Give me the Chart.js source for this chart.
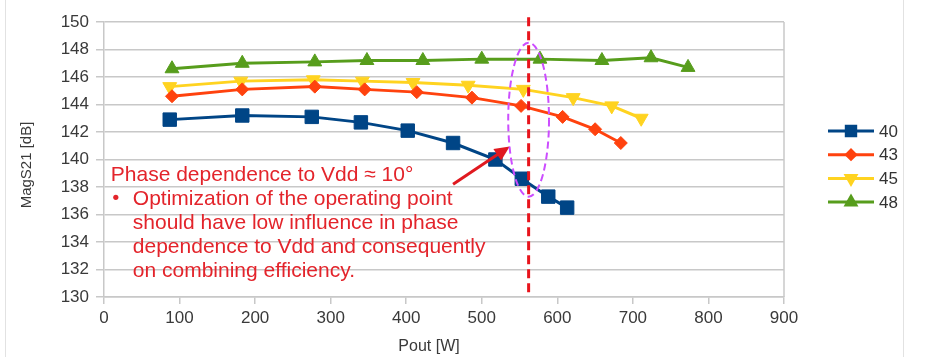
<!DOCTYPE html>
<html>
<head>
<meta charset="utf-8">
<script src="https://cdn.jsdelivr.net/npm/chart.js@4/dist/chart.umd.min.js"></script>
<style>
  html, body { margin: 0; padding: 0; background: #fff; }
  canvas { display: block; }
</style>
</head>
<body>
<canvas id="chart" width="938" height="357" style="width:938px;height:357px"></canvas>
<script>
// series labels (Vdd)
const seriesNames = ['40', '43', '45', '48'];

// Pout [W] / MagS21 [dB]
const pout40 = [87, 183, 275, 340, 402, 462, 518, 553, 588, 613];
const mag40  = [142.9, 143.2, 143.1, 142.7, 142.1, 141.2, 140.0, 138.6, 137.3, 136.5];

const pout43 = [90, 183, 279, 345, 414, 487, 552, 607, 650, 684];
const mag43  = [144.6, 145.1, 145.3, 145.1, 144.9, 144.5, 143.9, 143.1, 142.2, 141.2];

const pout45 = [87, 181, 277, 342, 409, 482, 555, 621, 672, 711];
const mag45  = [145.3, 145.7, 145.8, 145.7, 145.6, 145.4, 145.1, 144.5, 143.9, 143.0];

const pout48 = [90, 183, 279, 348, 422, 500, 577, 659, 724, 773];
const mag48  = [146.6, 147.0, 147.1, 147.2, 147.2, 147.3, 147.3, 147.2, 147.4, 146.7];

const xTitle = 'Pout [W]';
const yTitle = 'MagS21 [dB]';

// annotation
const noteLines = [
  'Phase dependence to Vdd \u2248 10\u00b0',
  'Optimization of the operating point',
  'should have low influence in phase',
  'dependence to Vdd and consequently',
  'on combining efficiency.'
];
const markerPout = 562;

const colors = ['#004586', '#ff420e', '#ffd320', '#579d1c'];
const styles = ['rect', 'rectRot', 'triangle', 'triangle'];
const rotations = [0, 0, 180, 0];
const radii = [9.5, 6.5, 8, 8];

function pts(xs, ys) {
  return xs.map((x, i) => ({ x: x, y: ys[i] }));
}

const allData = [pts(pout40, mag40), pts(pout43, mag43), pts(pout45, mag45), pts(pout48, mag48)];

const datasets = allData.map((d, i) => ({
  label: seriesNames[i],
  data: d,
  showLine: true,
  borderColor: colors[i],
  backgroundColor: colors[i],
  borderWidth: 3,
  pointStyle: styles[i],
  rotation: rotations[i],
  pointRadius: radii[i],
  pointBorderWidth: 1,
  tension: 0
}));

const FONT = '"Liberation Sans", Arial, sans-serif';

// frame, plot border, axis titles, annotation, legend
const extras = {
  id: 'extras',
  beforeDatasetsDraw(chart) {
    const { ctx, chartArea: a } = chart;
    ctx.save();
    ctx.strokeStyle = '#c8c8c8';
    ctx.lineWidth = 1.5;
    ctx.beginPath();
    ctx.moveTo(a.right, a.top);
    ctx.lineTo(a.right, a.bottom);
    ctx.stroke();
    ctx.strokeStyle = '#e2e2e2';
    ctx.lineWidth = 1;
    ctx.beginPath();
    ctx.moveTo(5.5, 0); ctx.lineTo(5.5, 357);
    ctx.moveTo(903.5, 0); ctx.lineTo(903.5, 357);
    ctx.stroke();

    // axis titles
    ctx.fillStyle = '#3a3a3a';
    ctx.textAlign = 'center';
    ctx.textBaseline = 'middle';
    ctx.font = '16px ' + FONT;
    ctx.fillText(xTitle, 429, 347);
    ctx.translate(27, 165);
    ctx.rotate(-Math.PI / 2);
    ctx.font = '15px ' + FONT;
    ctx.fillText(yTitle, 0, 0);
    ctx.restore();
  },
  afterDatasetsDraw(chart) {
    const { ctx, scales: { x, y } } = chart;
    ctx.save();

    // note text
    ctx.fillStyle = '#e3242b';
    ctx.font = '21px ' + FONT;
    ctx.textBaseline = 'alphabetic';
    ctx.textAlign = 'left';
    const tx = x.getPixelForValue(9);
    const ty = y.getPixelForValue(138.41);
    noteLines.forEach((t, i) => {
      const lx = i === 0 ? tx : tx + 22;
      ctx.fillText(t, lx, ty + i * 24);
    });
    ctx.beginPath();
    ctx.arc(tx + 5, ty + 24 - 8, 2.6, 0, Math.PI * 2);
    ctx.fill();

    // arrow
    const ax0 = x.getPixelForValue(462), ay0 = y.getPixelForValue(138.2);
    const ax1 = x.getPixelForValue(537), ay1 = y.getPixelForValue(140.95);
    const ang = Math.atan2(ay1 - ay0, ax1 - ax0);
    ctx.strokeStyle = '#e0191f';
    ctx.fillStyle = '#e0191f';
    ctx.lineWidth = 3;
    ctx.beginPath();
    ctx.moveTo(ax0, ay0);
    ctx.lineTo(ax1 - 12 * Math.cos(ang), ay1 - 12 * Math.sin(ang));
    ctx.stroke();
    ctx.beginPath();
    ctx.moveTo(ax1, ay1);
    ctx.lineTo(ax1 - 15 * Math.cos(ang) + 7 * Math.sin(ang), ay1 - 15 * Math.sin(ang) - 7 * Math.cos(ang));
    ctx.lineTo(ax1 - 15 * Math.cos(ang) - 7 * Math.sin(ang), ay1 - 15 * Math.sin(ang) + 7 * Math.cos(ang));
    ctx.closePath();
    ctx.fill();

    // vertical dashed line
    const vx = x.getPixelForValue(markerPout);
    ctx.strokeStyle = '#e8141c';
    ctx.lineWidth = 3;
    ctx.setLineDash([9, 5]);
    ctx.beginPath();
    ctx.moveTo(vx, y.getPixelForValue(150.35));
    ctx.lineTo(vx, y.bottom);
    ctx.stroke();

    // ellipse
    const ex = x.getPixelForValue(markerPout), ey = y.getPixelForValue(142.9);
    const rx = x.getPixelForValue(markerPout + 27) - x.getPixelForValue(markerPout);
    const ry = y.getPixelForValue(137.3) - ey;
    ctx.strokeStyle = '#cc4dff';
    ctx.lineWidth = 2;
    ctx.setLineDash([7, 4]);
    ctx.beginPath();
    ctx.ellipse(ex, ey, rx, ry, 0, 0, Math.PI * 2);
    ctx.stroke();
    ctx.setLineDash([]);

    // legend
    ctx.font = '17px ' + FONT;
    ctx.textBaseline = 'middle';
    chart.data.datasets.forEach((ds, i) => {
      const ly = 131 + i * 23.7;
      ctx.strokeStyle = ds.borderColor;
      ctx.lineWidth = 3;
      ctx.beginPath();
      ctx.moveTo(828, ly);
      ctx.lineTo(874, ly);
      ctx.stroke();
      ctx.fillStyle = ds.backgroundColor;
      Chart.helpers.drawPoint(ctx, {
        pointStyle: ds.pointStyle,
        rotation: ds.rotation,
        radius: ds.pointRadius * 0.7,
        borderWidth: 1
      }, 851, ly);
      ctx.fillStyle = '#333';
      ctx.fillText(ds.label, 879, ly + 1);
    });
    ctx.restore();
  }
};

const tickFont = { family: FONT, size: 17 };

new Chart(document.getElementById('chart'), {
  type: 'scatter',
  data: { datasets },
  options: {
    responsive: false,
    animation: false,
    devicePixelRatio: 1,
    layout: { padding: { left: 0, right: 154, top: 22, bottom: 0 } },
    plugins: { legend: { display: false }, tooltip: { enabled: false } },
    scales: {
      x: {
        type: 'linear',
        min: 0,
        max: 900,
        ticks: { stepSize: 100, color: '#3a3a3a', font: tickFont, padding: 4 },
        grid: { drawOnChartArea: false, tickLength: 7, color: '#c8c8c8', lineWidth: 1.5 },
        border: { color: '#c8c8c8', width: 1.5 },
        afterFit(s) { s.height = 60; }
      },
      y: {
        min: 130,
        max: 150,
        ticks: { stepSize: 2, color: '#3a3a3a', font: tickFont, padding: 7 },
        grid: { color: '#c8c8c8', lineWidth: 1.5, tickLength: 8 },
        border: { color: '#c8c8c8', width: 1.5 },
        afterFit(s) { s.width = 104; }
      }
    }
  },
  plugins: [extras]
});
</script>
</body>
</html>
